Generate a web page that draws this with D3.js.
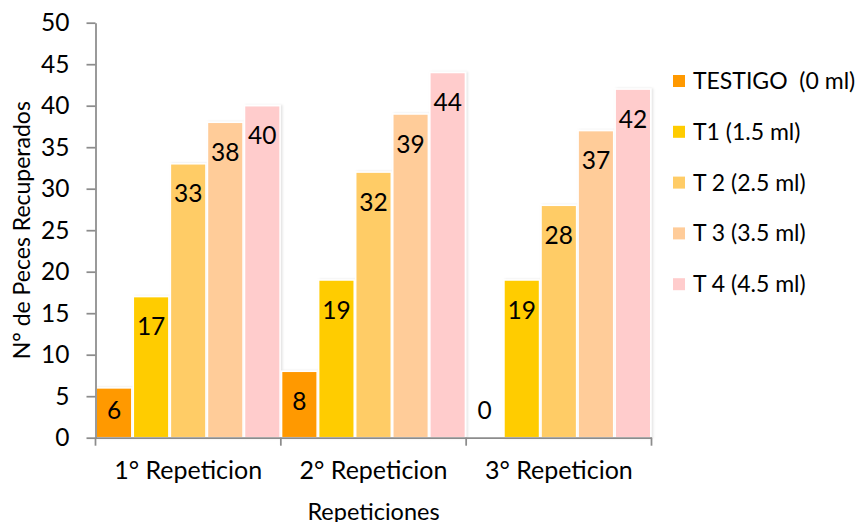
<!DOCTYPE html>
<html>
<head>
<meta charset="utf-8">
<script src="https://d3js.org/d3.v7.min.js"></script>
<style>
  body { margin: 0; background: #fff; }
  svg text { font-family: Lato, "Open Sans", sans-serif; fill: #000; }
</style>
</head>
<body>
<div id="chart"></div>
<script>
// data
const categories = ["1° Repeticion", "2° Repeticion", "3° Repeticion"];
const seriesNames = ["TESTIGO  (0 ml)", "T1 (1.5 ml)", "T 2 (2.5 ml)", "T 3 (3.5 ml)", "T 4 (4.5 ml)"];
const testigo = [6, 8, 0];
const t1 = [17, 19, 19];
const t2 = [33, 32, 28];
const t3 = [38, 39, 37];
const t4 = [40, 44, 42];
const yTicks = [0, 5, 10, 15, 20, 25, 30, 35, 40, 45, 50];
const colors = ["#FF9900", "#FFCC00", "#FFCC66", "#FFCC99", "#FFCCCC"];

const seriesValues = [testigo, t1, t2, t3, t4];

const width = 861;
const height = 522;
const margin = { top: 22.7, right: 209.5, bottom: 84.3, left: 95.5 };

const svg = d3.select("#chart")
    .append("svg")
    .attr("width", width)
    .attr("height", height);

// faint shadow on the right of the bars
const defs = svg.append("defs");
const shadow = defs.append("filter")
    .attr("id", "shadow")
    .attr("x", "-20%").attr("y", "-20%")
    .attr("width", "140%").attr("height", "140%");
shadow.append("feDropShadow")
    .attr("dx", 1.5).attr("dy", 0)
    .attr("stdDeviation", 1)
    .attr("flood-color", "#000")
    .attr("flood-opacity", 0.12);

// scales
const x0 = d3.scaleBand()
    .domain(categories)
    .range([margin.left, width - margin.right])
    .padding(0);

const x1 = d3.scaleBand()
    .domain(seriesNames)
    .range([0, x0.bandwidth()])
    .padding(0);

const y = d3.scaleLinear()
    .domain([0, 50])
    .range([height - margin.bottom, margin.top]);

const color = d3.scaleOrdinal()
    .domain(seriesNames)
    .range(colors);

// rows for the bars
const rows = [];
categories.forEach((cat, i) => {
    seriesNames.forEach((name, j) => {
        rows.push({ cat: cat, name: name, value: seriesValues[j][i] });
    });
});

// bars
svg.append("g")
    .selectAll("rect")
    .data(rows)
    .enter()
    .append("rect")
    .attr("x", d => x0(d.cat) + x1(d.name) + 0.75)
    .attr("y", d => y(d.value))
    .attr("width", x1.bandwidth() - 1.5)
    .attr("height", d => y(0) - y(d.value))
    .attr("fill", d => color(d.name))
    .attr("stroke", "#fff")
    .attr("stroke-width", 1.5)
    .attr("filter", "url(#shadow)");

// value labels
svg.append("g")
    .selectAll("text")
    .data(rows)
    .enter()
    .append("text")
    .attr("x", d => x0(d.cat) + x1(d.name) + x1.bandwidth() / 2)
    .attr("y", d => Math.min(y(d.value) + 30, y(0) - 27))
    .attr("dy", "0.35em")
    .attr("text-anchor", "middle")
    .style("font-size", "24.5px")
    .text(d => d.value);

// y axis
const yAxis = svg.append("g")
    .attr("transform", `translate(${margin.left},0)`)
    .call(d3.axisLeft(y).tickValues(yTicks).tickSize(9).tickSizeOuter(0).tickPadding(17));
yAxis.select(".domain").attr("stroke", "#8c8c8c").attr("stroke-width", 1.75);
yAxis.selectAll(".tick line").attr("stroke", "#8c8c8c").attr("stroke-width", 1.75);
yAxis.selectAll("text").style("font-size", "24.5px").attr("fill", "#000");

// x axis: labels in the middle, ticks between groups
const xAxis = svg.append("g")
    .attr("transform", `translate(0,${y(0)})`)
    .call(d3.axisBottom(x0).tickSize(0).tickSizeOuter(0).tickPadding(24));
xAxis.select(".domain").attr("stroke", "#8c8c8c").attr("stroke-width", 1.75);
xAxis.selectAll("text").style("font-size", "25px").attr("fill", "#000");

const bounds = categories.map(c => x0(c)).concat([x0.range()[1]]);
xAxis.selectAll(".sep")
    .data(bounds)
    .enter()
    .append("line")
    .attr("class", "sep")
    .attr("x1", d => d).attr("x2", d => d)
    .attr("y1", 0).attr("y2", 8)
    .attr("stroke", "#8c8c8c")
    .attr("stroke-width", 1.75);

// axis titles
svg.append("text")
    .attr("transform", `translate(22,${(y(0) + y(50)) / 2}) rotate(-90)`)
    .attr("text-anchor", "middle")
    .attr("dy", "0.35em")
    .style("font-size", "23px")
    .text("N° de Peces Recuperados");

svg.append("text")
    .attr("x", (x0.range()[0] + x0.range()[1]) / 2)
    .attr("y", 512)
    .attr("text-anchor", "middle")
    .attr("dy", "0.35em")
    .style("font-size", "23.5px")
    .text("Repeticiones");

// legend
const legend = svg.append("g")
    .selectAll(".legend-item")
    .data(seriesNames)
    .enter()
    .append("g")
    .attr("class", "legend-item")
    .attr("transform", (d, i) => `translate(673,${81 + i * 50.8})`);

legend.append("rect")
    .attr("x", 0).attr("y", -6)
    .attr("width", 12).attr("height", 12)
    .attr("fill", d => color(d));

legend.append("text")
    .attr("x", 20)
    .attr("dy", "0.35em")
    .style("font-size", "23px")
    .style("white-space", "pre")
    .text(d => d);
</script>
</body>
</html>
